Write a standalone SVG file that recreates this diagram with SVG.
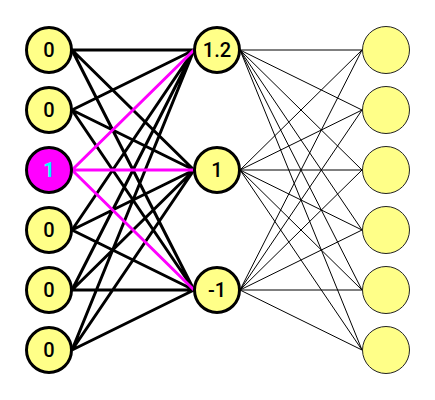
<svg xmlns="http://www.w3.org/2000/svg" width="435" height="400" viewBox="0 0 435 400">
<style>
.e1{stroke:#000;stroke-width:3;fill:none}
.e2{stroke:#000;stroke-width:1;fill:none}
.hl{stroke:#ff00ff;stroke-width:3;fill:none}
.n{fill:#ffff88;stroke:#000;stroke-width:3}
.o{fill:#ffff88;stroke:#222;stroke-width:1}
.t{font-family:Roboto,"Liberation Sans",sans-serif;font-size:20px;font-weight:500;fill:#000;text-anchor:middle;dominant-baseline:central}
</style>
<rect width="435" height="400" fill="#fff"/>
<g id="connectors">
<g id="layer1">
<path class="e1" d="M72,50L194,50M72,50L194,170M72,50L194,290M72,110L194,50M72,110L194,170M72,110L194,290M72,230L194,50M72,230L194,170M72,230L194,290M72,290L194,50M72,290L194,170M72,290L194,290M72,350L194,50M72,350L194,170M72,350L194,290"/>
<path class="hl" d="M72,170L194,50M72,170L194,170M72,170L194,290"/>
</g>
<g id="layer2">
<path class="e2" d="M240,50L362,50M240,50L362,110M240,50L362,170M240,50L362,230M240,50L362,290M240,50L362,350M240,170L362,50M240,170L362,110M240,170L362,170M240,170L362,230M240,170L362,290M240,170L362,350M240,290L362,50M240,290L362,110M240,290L362,170M240,290L362,230M240,290L362,290M240,290L362,350"/>
</g>
</g>
<g id="in0"><circle class="n" cx="49" cy="50" r="22.5"/><text class="t" x="49" y="50">0</text></g>
<g id="in1"><circle class="n" cx="49" cy="110" r="22.5"/><text class="t" x="49" y="110">0</text></g>
<g id="in2"><circle class="n" cx="49" cy="170" r="22.5" style="fill:#ff00ff"/><text class="t" x="49" y="170" style="fill:#00ffff;font-weight:700">1</text></g>
<g id="in3"><circle class="n" cx="49" cy="230" r="22.5"/><text class="t" x="49" y="230">0</text></g>
<g id="in4"><circle class="n" cx="49" cy="290" r="22.5"/><text class="t" x="49" y="290">0</text></g>
<g id="in5"><circle class="n" cx="49" cy="350" r="22.5"/><text class="t" x="49" y="350">0</text></g>
<g id="h0"><circle class="n" cx="217" cy="50" r="22.5"/><text class="t" x="217" y="50">1.2</text></g>
<g id="h1"><circle class="n" cx="217" cy="170" r="22.5"/><text class="t" x="217" y="170">1</text></g>
<g id="h2"><circle class="n" cx="217" cy="290" r="22.5"/><text class="t" x="217" y="290">-1</text></g>
<g id="out0"><circle class="o" cx="386" cy="50" r="23.5"/></g>
<g id="out1"><circle class="o" cx="386" cy="110" r="23.5"/></g>
<g id="out2"><circle class="o" cx="386" cy="170" r="23.5"/></g>
<g id="out3"><circle class="o" cx="386" cy="230" r="23.5"/></g>
<g id="out4"><circle class="o" cx="386" cy="290" r="23.5"/></g>
<g id="out5"><circle class="o" cx="386" cy="350" r="23.5"/></g>
</svg>
